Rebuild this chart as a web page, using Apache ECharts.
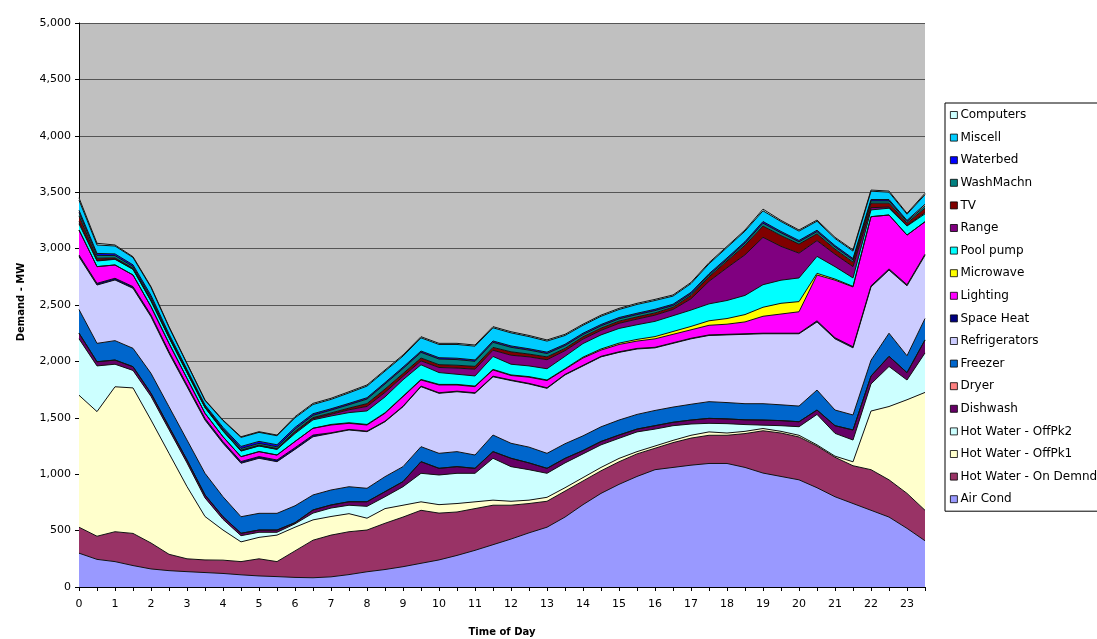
<!DOCTYPE html>
<html><head><meta charset="utf-8">
<script src="https://cdn.jsdelivr.net/npm/echarts@6/dist/echarts.min.js"></script>
<style>html,body{margin:0;padding:0;background:#fff}#c{width:1097px;height:639px}</style>
</head><body><div id="c"></div>
<script>
// Time of day categories (half-hour steps)
const times = ['0','0.5','1','1.5','2','2.5','3','3.5','4','4.5','5','5.5','6','6.5','7','7.5','8','8.5','9','9.5','10','10.5','11','11.5','12','12.5','13','13.5','14','14.5','15','15.5','16','16.5','17','17.5','18','18.5','19','19.5','20','20.5','21','21.5','22','22.5','23','23.5'];
const yTicks = [0,500,1000,1500,2000,2500,3000,3500,4000,4500,5000];

// Series values (MW), stacked bottom to top
const airCond      = [300,245,225,190,160,145,136,128,120,108,98,92,85,82,90,110,135,155,180,210,240,280,325,375,425,480,530,620,730,830,910,980,1040,1060,1080,1095,1095,1060,1010,980,950,880,800,740,680,620,520,410];
const hwOnDemand   = [230,205,265,285,230,145,114,112,118,117,152,133,235,333,370,380,370,410,440,470,415,385,370,350,300,260,230,230,210,200,200,200,190,220,240,250,250,300,375,385,380,370,350,335,360,330,310,270];
const hwOffPk1     = [1170,1105,1285,1290,1090,895,640,385,267,175,190,235,210,180,165,160,105,130,105,75,75,75,60,45,35,30,35,30,30,30,30,20,20,20,25,30,20,20,20,15,15,10,10,35,520,650,830,1045];
const hwOffPk2     = [500,405,200,155,210,210,210,165,95,55,45,25,30,60,75,75,105,105,164,253,263,268,253,371,307,270,213,220,210,200,178,175,150,130,100,76,83,60,30,50,76,270,202,193,240,355,175,350];
const dishwash     = [50,37,37,33,27,26,26,26,23,21,20,20,10,28,27,31,41,45,45,103,59,59,44,59,74,60,44,40,30,30,29,25,30,30,35,44,42,42,45,45,44,39,68,89,70,90,65,115];
const dryer        = [0,0,0,0,0,0,0,0,0,0,0,0,0,0,0,0,0,0,0,0,0,0,0,0,0,0,0,0,0,0,0,0,0,0,0,0,0,0,0,0,0,0,0,0,0,0,0,0];
const freezer      = [210,163,172,163,177,177,177,192,177,147,148,148,150,133,133,133,119,133,133,133,133,133,118,147,133,140,133,130,130,130,133,130,135,135,140,148,145,143,145,140,139,177,139,133,140,205,150,190];
const refrigerators= [468,517,538,532,502,474,473,472,474,474,488,458,500,516,502,503,502,487,531,532,532,531,547,517,556,560,576,610,620,620,600,580,555,565,580,587,600,615,620,630,641,604,631,595,650,560,620,560];
const spaceHeat    = [15,15,15,15,15,15,15,15,15,15,15,15,15,15,5,5,5,5,5,5,5,5,5,5,5,5,5,5,5,5,5,5,5,5,5,5,5,5,5,5,5,10,10,10,10,10,10,10];
const lighting     = [222,148,118,103,74,73,59,45,43,43,44,44,55,60,69,54,54,70,84,54,69,55,54,55,40,55,64,45,65,55,65,65,75,75,75,85,90,105,150,170,190,406,510,530,613,478,440,288];
const microwave    = [0,0,0,0,0,0,0,0,0,0,0,0,0,0,5,5,5,5,5,5,5,5,5,5,5,5,5,5,8,10,12,15,20,25,30,40,50,65,80,95,90,15,10,5,0,0,0,0];
const poolPump     = [55,50,50,50,50,50,50,50,50,50,50,50,70,75,75,90,120,140,145,130,105,90,90,115,95,95,100,110,120,125,130,130,135,140,145,150,160,170,200,205,210,150,110,75,60,60,80,70];
const range        = [20,5,3,2,2,2,2,2,2,2,2,2,10,10,15,25,40,40,30,35,45,55,60,55,80,80,80,50,40,40,45,50,55,55,100,200,290,360,420,300,220,140,110,100,20,10,5,10];
const tv           = [50,20,10,8,8,5,5,4,5,6,6,6,10,10,12,15,25,30,25,25,25,25,25,25,30,25,25,20,20,20,20,20,20,20,30,40,60,85,100,95,80,60,45,40,40,35,20,40];
const washMachn    = [30,25,20,15,20,12,10,8,12,15,15,15,20,20,25,30,40,45,45,50,50,50,45,45,40,35,30,25,20,20,20,20,20,15,15,15,15,20,25,25,20,20,20,20,20,20,15,20];
const waterbed     = [20,17,15,15,20,14,12,10,14,18,18,18,15,14,12,12,12,12,12,12,12,12,12,12,12,12,12,12,12,12,12,12,12,12,12,12,12,12,15,12,12,12,12,12,12,12,10,15];
const miscell      = [90,75,70,65,70,60,50,40,60,80,80,80,85,82,83,93,103,102,98,117,117,122,122,117,116,108,98,78,70,73,71,78,78,72,78,88,93,93,95,88,83,80,63,66,74,65,55,85];
const computers    = [20,15,9,7,7,5,4,4,5,6,6,6,10,10,10,10,10,10,10,10,10,10,10,10,10,10,10,10,10,10,10,10,10,10,10,10,10,10,15,10,10,10,10,10,10,10,8,12];

const seriesNames = ['Air Cond','Hot Water - On Demnd','Hot Water - OffPk1','Hot Water - OffPk2','Dishwash','Dryer','Freezer','Refrigerators','Space Heat','Lighting','Microwave','Pool pump','Range','TV','WashMachn','Waterbed','Miscell','Computers'];
const seriesData = [airCond,hwOnDemand,hwOffPk1,hwOffPk2,dishwash,dryer,freezer,refrigerators,spaceHeat,lighting,microwave,poolPump,range,tv,washMachn,waterbed,miscell,computers];
const colors = ['#9999FF','#993366','#FFFFCC','#CCFFFF','#660066','#FF8080','#0066CC','#CCCCFF','#000080','#FF00FF','#FFFF00','#00FFFF','#800080','#800000','#008080','#0000FF','#00CCFF','#CCFFFF'];

const FONT = 'DejaVu Sans';
const chart = echarts.init(document.getElementById('c'), null, {renderer:'canvas'});
chart.setOption({
  animation:false,
  backgroundColor:'#ffffff',
  color: colors,
  grid:{left:79, right:172, top:23, bottom:52, show:true, backgroundColor:'#C0C0C0', borderWidth:0},
  xAxis:{
    type:'category', data:times, boundaryGap:false,
    axisLine:{lineStyle:{color:'#000', width:1}},
    axisTick:{show:true, interval:0, length:4, lineStyle:{color:'#000'}},
    axisLabel:{interval:1, color:'#000', fontFamily:FONT, fontSize:11, margin:12,
      formatter:v => (Number(v)%1===0 ? v : '')},
    splitLine:{show:false}
  },
  yAxis:{
    type:'value', min:yTicks[0], max:yTicks[yTicks.length-1], interval:500,
    axisLine:{show:true, lineStyle:{color:'#000', width:1}},
    axisTick:{show:true, length:4, lineStyle:{color:'#000'}},
    axisLabel:{color:'#000', fontFamily:FONT, fontSize:11, margin:8,
      formatter:v => v.toLocaleString('en-US')},
    splitLine:{show:true, lineStyle:{color:'#555', width:1.2}}
  },
  legend:{
    orient:'vertical', left:945, top:103,
    data: seriesNames.slice().reverse(),
    icon:'rect', itemWidth:7, itemHeight:7, itemGap:8.6,
    itemStyle:{borderColor:'#000', borderWidth:0.8},
    textStyle:{color:'#000', fontFamily:FONT, fontSize:12, lineHeight:14, padding:[0,0,0,-2]},
    backgroundColor:'#fff', borderColor:'#000', borderWidth:1,
    padding:[5,30,5,5], selectedMode:false
  },
  graphic:[
    {type:'text', x:21, y:302, rotation:Math.PI/2,
      style:{text:'Demand - MW', font:'bold 10px '+FONT, fill:'#000', textAlign:'center', textVerticalAlign:'middle'}},
    {type:'text', x:502, y:632,
      style:{text:'Time of Day', font:'bold 10px '+FONT, fill:'#000', textAlign:'center', textVerticalAlign:'middle'}}
  ],
  series: seriesNames.map((n,i)=>({
    name:n, type:'line', stack:'total', data:seriesData[i],
    symbol:'none', smooth:false,
    lineStyle:{color:'#111', width:1},
    areaStyle:{color:colors[i], opacity:1},
    itemStyle:{color:colors[i]},
    emphasis:{disabled:true}
  }))
});
</script>
</body></html>
